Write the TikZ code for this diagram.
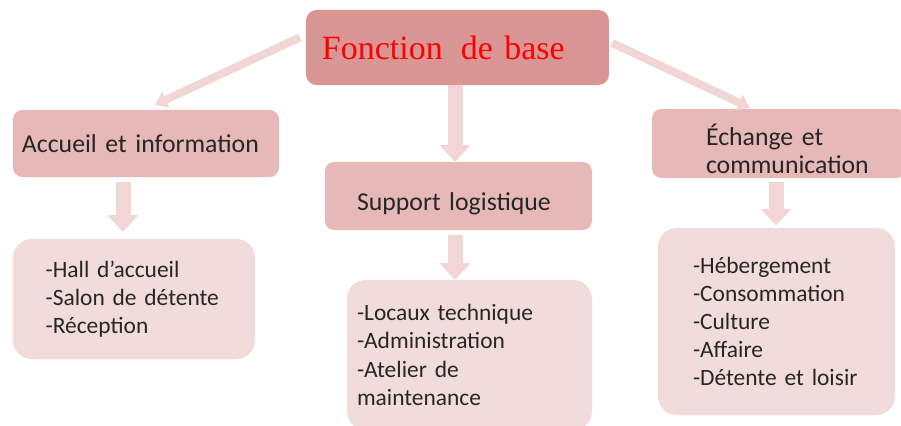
\documentclass[tikz,border=0pt]{standalone}
\usepackage{fontspec}
\setmainfont{Carlito}
\newfontfamily\titrefont{Liberation Serif}
\usetikzlibrary{arrows.meta}
\definecolor{rosefonce}{HTML}{D99694}
\definecolor{rosemoyen}{HTML}{E6B9B8}
\definecolor{roseclair}{HTML}{F2DCDB}
\definecolor{flechecol}{HTML}{F2D5D5}
\definecolor{texte}{HTML}{262626}

\begin{document}
\begin{tikzpicture}[x=0.03cm, y=-0.03cm,
    titre/.style={fill=rosefonce, rounded corners=9pt, inner xsep=0.48cm, text width=8.13cm,
        minimum height=2.25cm, align=left, text=red, font=\titrefont\fontsize{29}{34}\selectfont},
    rubrique/.style={fill=rosemoyen, rounded corners=8pt, align=left, text=texte,
        font=\fontsize{22}{24}\selectfont},
    liste/.style={fill=roseclair, rounded corners=16pt, align=left, text=texte,
        font=\fontsize{20}{24}\selectfont},
    flechegrosse/.style={line width=0.45cm, draw=flechecol, -{Triangle[width=0.9cm, length=0.5cm]}},
    flechefine/.style={line width=0.24cm, draw=flechecol, -{Triangle[width=0.5cm, length=0.36cm]}}]
    \useasboundingbox (0,0) rectangle (901,426);
    % boites
    \node[titre] (base) at (457.5,47.5) {Fonction\hspace{0.2em} de base};
    \node[rubrique, inner xsep=0.27cm, text width=7.44cm, minimum height=2.01cm] (accueil) at (146,143.5) {Accueil et information};
    \node[rubrique, inner xsep=0.96cm, text width=6.09cm, minimum height=2.04cm] (support) at (458.5,196) {\rule{0pt}{28pt}Support logistique};
    \node[rubrique, inner xsep=1.62cm, text width=4.38cm, minimum height=2.07cm] (echange) at (779,143.5) {\rule{0pt}{27pt}Échange et\\communication};
    \node[liste, inner xsep=0.98cm, text width=5.3cm, minimum height=3.6cm] (listeA) at (134,299) {-Hall d’accueil\\-Salon de détente\\-Réception};
    \node[liste, inner xsep=0.3cm, text width=6.75cm, minimum height=4.5cm] (listeB) at (469.5,355) {-Locaux technique\\-Administration\\-Atelier de\\maintenance};
    \node[liste, inner xsep=1.05cm, text width=5.01cm, minimum height=5.61cm] (listeC) at (776.5,321.5) {-Hébergement\\-Consommation\\-Culture\\-Affaire\\-Détente et loisir};
    % fleches
    \coordinate (axeA) at (123,0);
    \coordinate (axeB) at (455,0);
    \coordinate (axeC) at (776,0);
    \draw[flechefine] ([shift={(-6,-10)}]base.west) -- ([shift={(9,-5)}]accueil.north);
    \draw[flechefine] ([shift={(3,-4.5)}]base.east) -- ([shift={(-29,-1)}]echange.north);
    \draw[flechegrosse] (base.south -| axeB) -- (support.north -| axeB);
    \draw[flechegrosse, shorten <=4pt, shorten >=6pt] (accueil.south -| axeA) -- (listeA.north -| axeA);
    \draw[flechegrosse, shorten <=4pt] (support.south -| axeB) -- (listeB.north -| axeB);
    \draw[flechegrosse, shorten <=3pt, shorten >=2pt] (echange.south -| axeC) -- (listeC.north -| axeC);
\end{tikzpicture}
\end{document}
